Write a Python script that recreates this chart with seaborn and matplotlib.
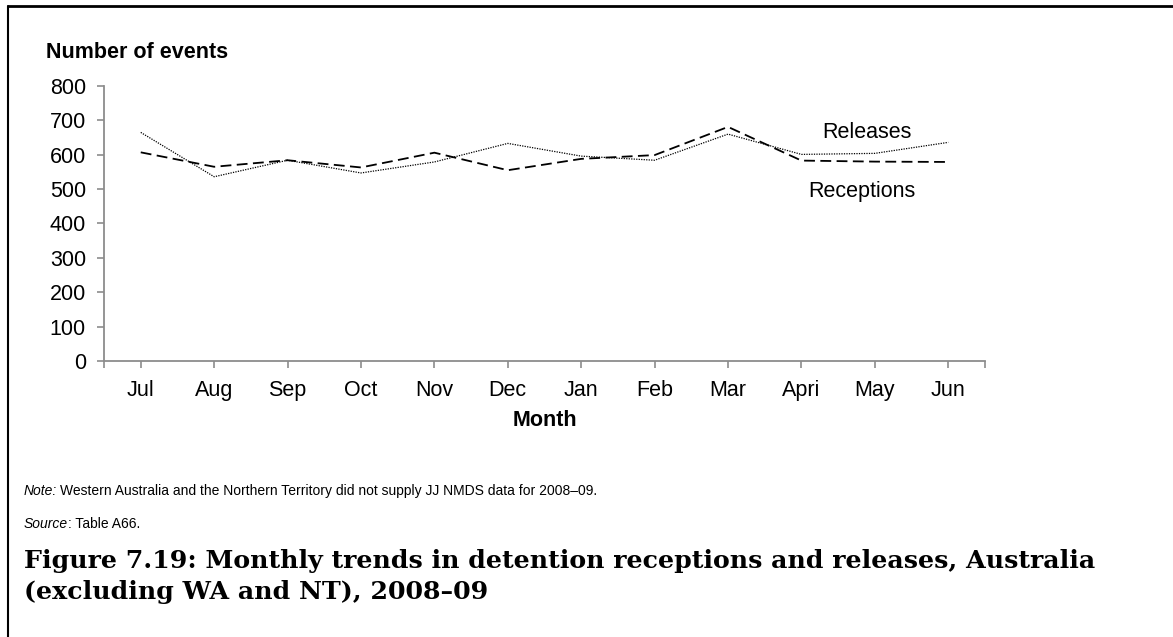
import numpy as np
import pandas as pd
import matplotlib
matplotlib.use("Agg")
import matplotlib.pyplot as plt
from matplotlib.lines import Line2D
import seaborn as sns

months = ["Jul", "Aug", "Sep", "Oct", "Nov", "Dec",
          "Jan", "Feb", "Mar", "Apri", "May", "Jun"]
receptions = [607, 565, 584, 563, 606, 555, 588, 599, 681, 583, 580, 579]
releases = [665, 536, 584, 547, 579, 633, 596, 584, 660, 601, 604, 636]
y_ticks = [0, 100, 200, 300, 400, 500, 600, 700, 800]

df = pd.DataFrame({
    "pos": list(range(len(months))) * 2,
    "Events": receptions + releases,
    "Series": ["Receptions"] * len(months) + ["Releases"] * len(months),
})

sns.set_theme(style="white")
plt.rcParams["font.family"] = ["Liberation Sans", "DejaVu Sans"]
plt.rcParams["text.color"] = "black"
plt.rcParams["axes.labelcolor"] = "black"

W, H = 1173, 637
fig = plt.figure(figsize=(W / 100, H / 100), dpi=100)
ax = fig.add_axes([0.0887, 0.4333, 0.751, 0.4317])

sns.lineplot(data=df, x="pos", y="Events", style="Series",
             dashes={"Receptions": (6, 3), "Releases": (1, 1)},
             color="black", legend=False, ax=ax)
ax.get_lines()[0].set_linewidth(1.3)
ax.get_lines()[1].set_linewidth(0.9)

ax.set_xlim(-0.5, 11.5)
ax.set_ylim(0, 800)
ax.set_yticks(y_ticks)
ax.set_yticklabels([str(v) for v in y_ticks])
ax.set_xticks(range(len(months)))
ax.set_xticklabels(months)
ax.set_xticks([-0.5, 11.5], minor=True)
ax.tick_params(axis="both", which="both", direction="out", color="#8c8c8c",
               length=5, width=1.2, labelsize=15.5, labelcolor="black",
               left=True, bottom=True)
ax.tick_params(axis="x", pad=9)
ax.tick_params(axis="y", pad=8)
for side in ("top", "right"):
    ax.spines[side].set_visible(False)
for side in ("left", "bottom"):
    ax.spines[side].set_color("#8c8c8c")
    ax.spines[side].set_linewidth(1.3)

ax.set_xlabel("Month", fontsize=15.5, fontweight="bold", labelpad=6)
ax.set_ylabel("")


def fx(px):
    return px / W


def fy(py):
    return 1 - py / H


fig.text(fx(867), fy(132), "Releases", fontsize=15.5, ha="center", va="center")
fig.text(fx(862), fy(191), "Receptions", fontsize=15.5, ha="center", va="center")

fig.text(fx(46), fy(53), "Number of events", fontsize=15.5,
         fontweight="bold", ha="left", va="center")

# note and source lines with italic lead-ins
t1 = fig.text(fx(24), fy(491), "Note:", fontsize=10,
              fontstyle="italic", ha="left", va="center")
fig.canvas.draw()
bb = t1.get_window_extent()
fig.text(fx(bb.x1 + 3), fy(491),
         "Western Australia and the Northern Territory did not supply JJ NMDS data for 2008\u201309.",
         fontsize=10, ha="left", va="center")
t2 = fig.text(fx(24), fy(524), "Source", fontsize=10,
              fontstyle="italic", ha="left", va="center")
fig.canvas.draw()
bb = t2.get_window_extent()
fig.text(fx(bb.x1), fy(524), ": Table A66.", fontsize=10,
         ha="left", va="center")

cap_font = ["DejaVu Serif"]
fig.text(fx(24), fy(561),
         "Figure 7.19: Monthly trends in detention receptions and releases, Australia",
         fontsize=18.2, fontweight="bold", family=cap_font, ha="left", va="center")
fig.text(fx(24), fy(592),
         "(excluding WA and NT), 2008\u201309",
         fontsize=18.2, fontweight="bold", family=cap_font, ha="left", va="center")

# frame lines along the top and left edges
fig.add_artist(Line2D([fx(8), 1.0], [fy(6), fy(6)],
                      transform=fig.transFigure, color="black", linewidth=2))
fig.add_artist(Line2D([fx(8), fx(8)], [fy(6), 0.0],
                      transform=fig.transFigure, color="black", linewidth=1.5))

fig.savefig("out.png", dpi=100, facecolor="white")
